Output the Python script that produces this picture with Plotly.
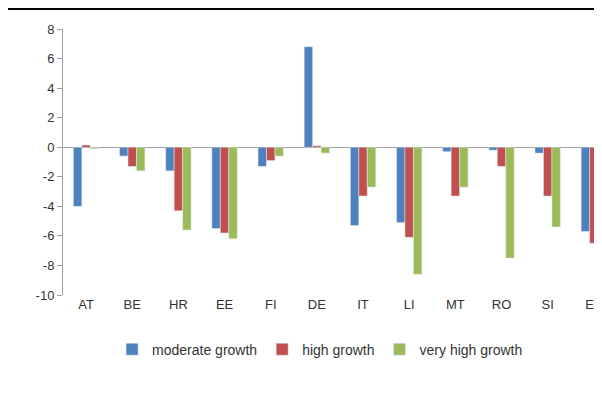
import plotly.graph_objects as go

countries = ["AT","BE","HR","EE","FI","DE","IT","LI","MT","RO","SI","ES"]
moderate = [-4.0,-0.6,-1.6,-5.5,-1.3,6.8,-5.3,-5.1,-0.3,-0.2,-0.4,-5.7]
high = [0.15,-1.3,-4.3,-5.8,-0.9,0.1,-3.3,-6.1,-3.3,-1.3,-3.3,-6.5]
very_high = [-0.1,-1.6,-5.6,-6.2,-0.6,-0.4,-2.7,-8.6,-2.7,-7.5,-5.4,-6.5]
yticks = [8,6,4,2,0,-2,-4,-6,-8,-10]

fig = go.Figure()
for name, vals, col in [("moderate growth", moderate, "#4F81BD"),
                        ("high growth", high, "#C0504D"),
                        ("very high growth", very_high, "#9BBB59")]:
    fig.add_bar(x=countries, y=vals, name=name, marker_color=col)

fig.update_layout(
    width=602, height=405, barmode="group", bargap=0.45, bargroupgap=0,
    plot_bgcolor="white", paper_bgcolor="white",
    margin=dict(l=55, r=0, t=21, b=118),
    font=dict(family="Liberation Sans, Arial", size=13, color="#333"),
    legend=dict(orientation="h", x=0.47, xanchor="center", y=-0.145, yanchor="top",
                font=dict(size=14)),
    xaxis=dict(range=[-0.5, 11.35], showline=False, ticks="", tickfont=dict(size=13)),
    yaxis=dict(range=[-10, 8], tickvals=yticks, ticktext=[str(v) for v in yticks],
               showgrid=False, zeroline=True,
               zerolinecolor="#A0A0A0", zerolinewidth=1, showline=True,
               linecolor="#A0A0A0", ticks="outside", ticklen=5, tickcolor="#A0A0A0",
               tickfont=dict(size=13)),
)
fig.add_shape(type="line", xref="paper", yref="paper", x0=-0.2, x1=1.1, y0=1.075, y1=1.075,
              line=dict(color="black", width=2))
fig.write_html("out.html")
